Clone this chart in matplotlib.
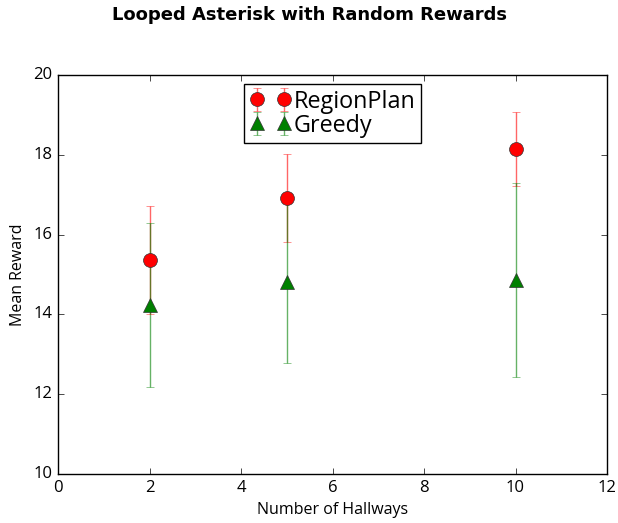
import matplotlib
matplotlib.use("Agg")
import matplotlib.pyplot as plt

plt.style.use("classic")
plt.rcParams['font.family'] = ['Open Sans', 'DejaVu Sans']

hallways = [2, 5, 10]
region_mean = [15.37, 16.92, 18.15]
region_err = [1.35, 1.10, 0.93]
greedy_mean = [14.24, 14.81, 14.86]
greedy_err = [2.05, 2.03, 2.44]

fig = plt.figure(figsize=(6.18, 5.23), dpi=100, facecolor='white')
ax = fig.add_axes([0.0939, 0.0937, 0.8883, 0.7629])

ax.errorbar(hallways, region_mean, yerr=region_err, fmt='o', color='red',
            ecolor=(1, 0, 0, 0.6), markersize=10, capsize=3, label='RegionPlan',
            markeredgecolor='#333333')
ax.errorbar(hallways, greedy_mean, yerr=greedy_err, fmt='^', color='green',
            ecolor=(0, 0.5, 0, 0.6), markersize=10, capsize=3, label='Greedy',
            markeredgecolor='#333333')

ax.set_xlim(0, 12)
ax.set_ylim(10, 20)
ax.set_xticks([0, 2, 4, 6, 8, 10, 12])
ax.set_yticks([10, 12, 14, 16, 18, 20])
ax.tick_params(labelsize=12)
ax.set_xlabel('Number of Hallways', fontsize=11.5)
ax.set_ylabel('Mean Reward', fontsize=11.5)
fig.suptitle('Looped Asterisk with Random Rewards', fontsize=13, fontweight='bold',
             family='DejaVu Sans', y=0.988)
ax.legend(loc='upper center', bbox_to_anchor=(0.5, 0.978), borderaxespad=0,
          numpoints=2, fontsize=16.8, handletextpad=0.12, handlelength=1.75,
          borderpad=0.25, labelspacing=0.0, fancybox=False)
fig.savefig('out.png', dpi=100, facecolor='white')
